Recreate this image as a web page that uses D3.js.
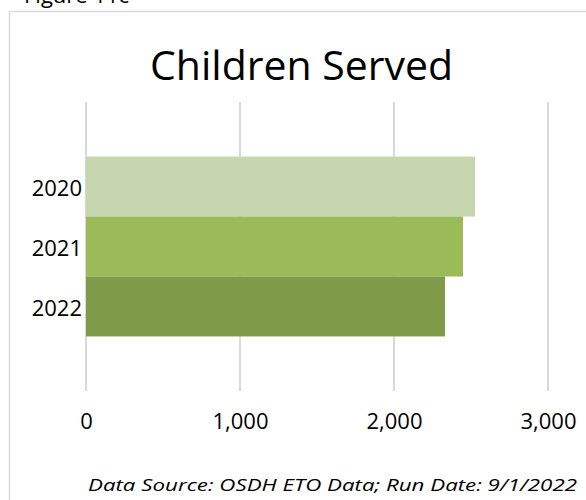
<!DOCTYPE html>
<html>
<head>
<meta charset="utf-8">
<script src="https://cdn.jsdelivr.net/npm/d3@7"></script>
<style>
  html, body { margin: 0; padding: 0; background: #ffffff; }
  svg { display: block; }
  text { font-family: "Open Sans", "Noto Sans", sans-serif; fill: #000000; }
</style>
</head>
<body>
<svg id="chart" width="586" height="500"></svg>
<script>
// Children served per year
const years = ["2020", "2021", "2022"];
const served = [2526, 2448, 2331];
const barColors = ["#c5d6ae", "#9bbb59", "#7f9a49"];
const xTicks = [0, 1000, 2000, 3000];

const svg = d3.select("#chart");

// Chart frame (extends past the right and bottom edges)
svg.append("rect")
  .attr("x", 9.5).attr("y", 11.5)
  .attr("width", 600).attr("height", 520)
  .attr("fill", "#ffffff")
  .attr("stroke", "#d9d9d9")
  .attr("stroke-width", 1.5);

// Figure caption, mostly above the visible area
svg.append("text")
  .attr("x", 24).attr("y", 3)
  .attr("font-size", 22)
  .text("Figure 11c");

// Title
svg.append("text")
  .attr("x", 150).attr("y", 80)
  .attr("font-size", 40)
  .attr("textLength", 303)
  .attr("lengthAdjust", "spacingAndGlyphs")
  .text("Children Served");

const plotTop = 102, plotBottom = 391;

const x = d3.scaleLinear().domain([0, 3000]).range([86, 548]);
const y = d3.scaleBand().domain(years).range([plotTop, plotBottom])
  .paddingInner(0).paddingOuter(0.91);

// Vertical gridlines
svg.append("g")
  .selectAll("line")
  .data(xTicks)
  .join("line")
  .attr("x1", d => x(d)).attr("x2", d => x(d))
  .attr("y1", plotTop).attr("y2", plotBottom)
  .attr("stroke", "#d9d9d9")
  .attr("stroke-width", 2);

// Bars
svg.append("g")
  .selectAll("rect")
  .data(years.map((yr, i) => ({ yr, v: served[i], c: barColors[i] })))
  .join("rect")
  .attr("x", x(0))
  .attr("y", d => y(d.yr))
  .attr("width", d => x(d.v) - x(0))
  .attr("height", y.bandwidth())
  .attr("fill", d => d.c);

// Value axis labels
const xAxis = svg.append("g")
  .attr("transform", `translate(0, 413)`)
  .call(d3.axisBottom(x).tickValues(xTicks).tickFormat(d3.format(",")).tickSize(0).tickPadding(0));
xAxis.select(".domain").remove();
xAxis.selectAll("text")
  .attr("font-family", "Open Sans, Noto Sans, sans-serif")
  .attr("font-size", 22)
  .attr("fill", "#000");

// Year labels
const yAxis = svg.append("g")
  .attr("transform", `translate(${x(0)}, 2)`)
  .call(d3.axisLeft(y).tickSize(0).tickPadding(4));
yAxis.select(".domain").remove();
yAxis.selectAll("text")
  .attr("font-family", "Open Sans, Noto Sans, sans-serif")
  .attr("font-size", 22)
  .attr("fill", "#000");

// Source note
svg.append("text")
  .attr("x", 577).attr("y", 491)
  .attr("text-anchor", "end")
  .attr("font-size", 17)
  .attr("font-style", "italic")
  .attr("textLength", 489)
  .attr("lengthAdjust", "spacingAndGlyphs")
  .text("Data Source: OSDH ETO Data; Run Date: 9/1/2022");
</script>
</body>
</html>
